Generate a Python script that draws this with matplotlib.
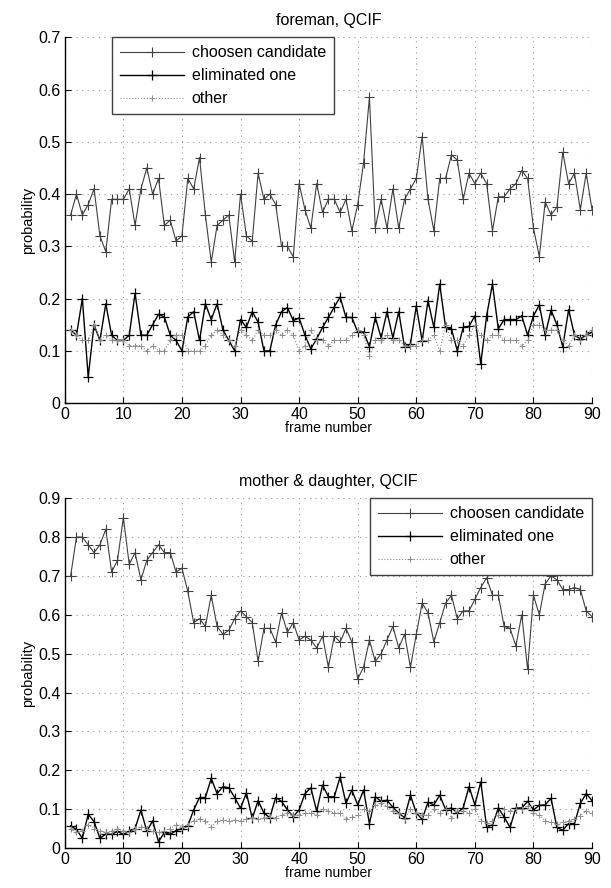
import matplotlib
matplotlib.use("Agg")
import matplotlib.pyplot as plt
import numpy as np

plt.rcParams['font.family'] = ['Liberation Sans', 'DejaVu Sans']

# --- data ---
frames = list(range(1, 91))

fore_chosen = [0.36, 0.40, 0.36, 0.38, 0.41, 0.32, 0.29, 0.39, 0.39, 0.39,
               0.41, 0.34, 0.41, 0.45, 0.40, 0.43, 0.34, 0.35, 0.31, 0.32,
               0.43, 0.41, 0.47, 0.36, 0.27, 0.34, 0.35, 0.36, 0.27, 0.40,
               0.32, 0.31, 0.44, 0.39, 0.40, 0.38, 0.30, 0.30, 0.28, 0.42,
               0.37, 0.335, 0.42, 0.365, 0.39, 0.39, 0.365, 0.39, 0.33, 0.38,
               0.46, 0.585, 0.335, 0.39, 0.335, 0.41, 0.335, 0.39, 0.41, 0.43,
               0.51, 0.39, 0.33, 0.43, 0.43, 0.475, 0.465, 0.39, 0.44, 0.42,
               0.44, 0.42, 0.33, 0.395, 0.395, 0.41, 0.42, 0.445, 0.43, 0.335,
               0.28, 0.385, 0.36, 0.375, 0.48, 0.42, 0.44, 0.37, 0.44, 0.37]

fore_elim = [0.14, 0.13, 0.20, 0.05, 0.15, 0.12, 0.19, 0.13, 0.12, 0.12,
             0.13, 0.21, 0.13, 0.13, 0.15, 0.17, 0.165, 0.13, 0.12, 0.10,
             0.165, 0.175, 0.12, 0.19, 0.16, 0.19, 0.14, 0.12, 0.10, 0.16,
             0.145, 0.175, 0.155, 0.10, 0.10, 0.15, 0.175, 0.183, 0.158, 0.163,
             0.13, 0.104, 0.123, 0.145, 0.164, 0.184, 0.203, 0.164, 0.164, 0.136,
             0.136, 0.108, 0.164, 0.125, 0.175, 0.125, 0.175, 0.107, 0.113, 0.186,
             0.119, 0.196, 0.145, 0.228, 0.145, 0.142, 0.10, 0.145, 0.147, 0.167,
             0.075, 0.167, 0.228, 0.142, 0.16, 0.16, 0.16, 0.167, 0.13, 0.167,
             0.188, 0.13, 0.178, 0.15, 0.108, 0.179, 0.13, 0.123, 0.13, 0.136]

fore_other = [0.14, 0.13, 0.12, 0.12, 0.15, 0.12, 0.13, 0.12, 0.12, 0.12,
              0.11, 0.11, 0.11, 0.10, 0.11, 0.10, 0.10, 0.12, 0.13, 0.13,
              0.10, 0.10, 0.10, 0.11, 0.13, 0.14, 0.13, 0.12, 0.11, 0.14,
              0.13, 0.12, 0.14, 0.13, 0.13, 0.14, 0.13, 0.14, 0.13, 0.10,
              0.11, 0.14, 0.12, 0.12, 0.11, 0.12, 0.12, 0.12, 0.13, 0.14,
              0.13, 0.09, 0.12, 0.12, 0.13, 0.12, 0.12, 0.11, 0.11, 0.11,
              0.12, 0.12, 0.13, 0.10, 0.15, 0.12, 0.12, 0.11, 0.13, 0.15,
              0.13, 0.12, 0.13, 0.13, 0.12, 0.12, 0.12, 0.11, 0.12, 0.15,
              0.15, 0.14, 0.14, 0.14, 0.12, 0.11, 0.13, 0.12, 0.13, 0.14]

md_chosen = [0.70, 0.80, 0.80, 0.78, 0.76, 0.78, 0.82, 0.71, 0.74, 0.85,
             0.73, 0.76, 0.69, 0.74, 0.76, 0.78, 0.76, 0.76, 0.71, 0.72,
             0.66, 0.58, 0.59, 0.57, 0.65, 0.57, 0.55, 0.56, 0.59, 0.61,
             0.595, 0.58, 0.48, 0.565, 0.565, 0.53, 0.605, 0.555, 0.58, 0.535,
             0.545, 0.535, 0.515, 0.545, 0.465, 0.545, 0.53, 0.565, 0.53, 0.435,
             0.465, 0.535, 0.48, 0.50, 0.535, 0.57, 0.515, 0.55, 0.465, 0.55,
             0.63, 0.605, 0.53, 0.58, 0.63, 0.65, 0.59, 0.61, 0.61, 0.64,
             0.67, 0.695, 0.65, 0.65, 0.57, 0.565, 0.52, 0.60, 0.46, 0.65,
             0.60, 0.68, 0.70, 0.69, 0.665, 0.665, 0.67, 0.665, 0.61, 0.595]

md_elim = [0.057, 0.048, 0.025, 0.087, 0.068, 0.025, 0.036, 0.035, 0.043, 0.035,
           0.043, 0.05, 0.098, 0.043, 0.07, 0.016, 0.04, 0.035, 0.045, 0.05,
           0.057, 0.098, 0.13, 0.13, 0.179, 0.14, 0.158, 0.155, 0.13, 0.102,
           0.142, 0.076, 0.122, 0.09, 0.078, 0.13, 0.12, 0.098, 0.081, 0.098,
           0.14, 0.155, 0.095, 0.162, 0.132, 0.132, 0.183, 0.115, 0.149, 0.111,
           0.149, 0.063, 0.132, 0.12, 0.123, 0.105, 0.09, 0.078, 0.136, 0.09,
           0.074, 0.118, 0.111, 0.136, 0.099, 0.103, 0.09, 0.103, 0.158, 0.111,
           0.17, 0.055, 0.059, 0.103, 0.08, 0.053, 0.103, 0.103, 0.12, 0.098,
           0.11, 0.111, 0.128, 0.053, 0.046, 0.063, 0.063, 0.115, 0.14, 0.122]

md_other = [0.05, 0.04, 0.045, 0.06, 0.05, 0.045, 0.04, 0.045, 0.05, 0.045,
            0.04, 0.05, 0.055, 0.05, 0.045, 0.04, 0.045, 0.05, 0.06, 0.055,
            0.06, 0.07, 0.075, 0.07, 0.055, 0.07, 0.073, 0.07, 0.072, 0.07,
            0.075, 0.078, 0.075, 0.078, 0.08, 0.078, 0.085, 0.09, 0.085, 0.085,
            0.09, 0.09, 0.085, 0.10, 0.095, 0.09, 0.09, 0.075, 0.08, 0.085,
            0.10, 0.095, 0.11, 0.115, 0.108, 0.095, 0.09, 0.075, 0.10, 0.09,
            0.085, 0.085, 0.10, 0.09, 0.10, 0.078, 0.095, 0.095, 0.09, 0.10,
            0.07, 0.065, 0.07, 0.085, 0.10, 0.095, 0.10, 0.10, 0.108, 0.09,
            0.085, 0.07, 0.066, 0.062, 0.066, 0.07, 0.075, 0.083, 0.095, 0.09]

labels = ["choosen candidate", "eliminated one", "other"]
# -----------------

fig = plt.figure(figsize=(6.11, 8.88), dpi=100)
ax1 = fig.add_axes([0.106, 0.546, 0.863, 0.412])
ax2 = fig.add_axes([0.106, 0.045, 0.863, 0.394])


def draw(ax, chosen, elim, other, title, ymax, legend_loc, anchor):
    ax.plot(frames, chosen, color='0.25', lw=0.8, marker='+', ms=6.5, mew=0.8,
            label=labels[0])
    ax.plot(frames, elim, color='k', lw=1.0, marker='+', ms=6.5, mew=0.9,
            label=labels[1])
    ax.plot(frames, other, color='0.55', lw=0.8, ls=':', marker='+', ms=5,
            mew=0.7, label=labels[2])
    ax.set_xlim(0, 90)
    ax.set_ylim(0, ymax)
    ax.set_xticks(np.arange(0, 91, 10))
    yt = np.round(np.arange(0, ymax + 0.001, 0.1), 1)
    ax.set_yticks(yt)
    ax.set_yticklabels(['0'] + ['%g' % v for v in yt[1:]])
    # matlab style sparse dotted grid
    ax.grid(True, ls=(0, (1, 4)), color='0.6', lw=0.8)
    for s in ['top', 'right']:
        ax.spines[s].set_visible(False)
    ax.spines['left'].set_linewidth(1.0)
    ax.spines['bottom'].set_linewidth(1.0)
    ax.tick_params(direction='in', length=4, labelsize=11.5, pad=3)
    ax.set_title(title, fontsize=11.5, pad=9)
    ax.set_xlabel("frame number", fontsize=10, labelpad=-1)
    ax.set_ylabel("probability", fontsize=10.5, labelpad=2)
    leg = ax.legend(loc=legend_loc, bbox_to_anchor=anchor, borderaxespad=0,
                    fontsize=11.5, handlelength=4.0, labelspacing=0.5,
                    handletextpad=0.5, borderpad=0.5, fancybox=False,
                    framealpha=1, edgecolor='0.25')
    leg.get_frame().set_linewidth(1.0)


draw(ax1, fore_chosen, fore_elim, fore_other, "foreman, QCIF", 0.7,
     'upper left', (0.089, 1.0))
draw(ax2, md_chosen, md_elim, md_other, "mother & daughter, QCIF", 0.9,
     'upper right', (1.0, 1.0))

fig.savefig("out.png", dpi=100)
